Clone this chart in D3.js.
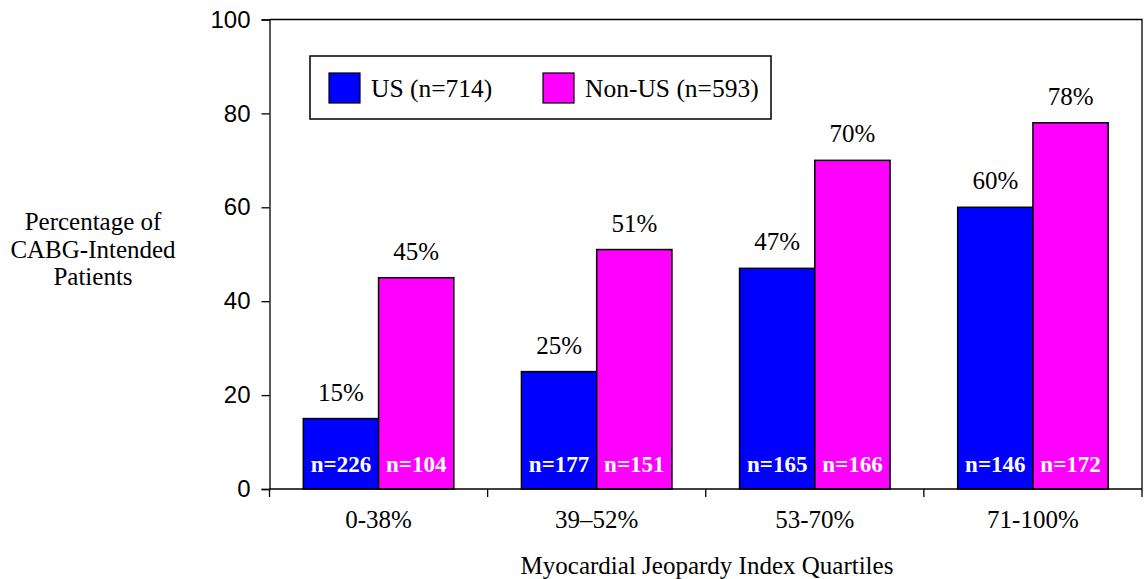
<!DOCTYPE html>
<html>
<head>
<meta charset="utf-8">
<script src="https://cdn.jsdelivr.net/npm/d3@7/dist/d3.min.js"></script>
<style>
  html, body { margin: 0; padding: 0; background: #fff; }
  svg { display: block; }
</style>
</head>
<body>
<svg id="chart" width="1144" height="579"></svg>
<script>
// Quartile categories and per-region percentages
const categories = ["0-38%", "39\u201352%", "53-70%", "71-100%"];
const seriesNames = ["US (n=714)", "Non-US (n=593)"];
const usValues = [15, 25, 47, 60];
const nonUsValues = [45, 51, 70, 78];
const usCounts = [226, 177, 165, 146];
const nonUsCounts = [104, 151, 166, 172];
const yTicks = [0, 20, 40, 60, 80, 100];
const colors = ["#0000ff", "#ff00ff"];

const svg = d3.select("#chart");
const plotLeft = 269.5, plotRight = 1142, plotTop = 19.5, plotBottom = 489;
const serif = "'Liberation Serif', 'Times New Roman', serif";
const sans = "'Liberation Sans', Arial, sans-serif";

const x = d3.scaleBand().domain(categories).range([plotLeft, plotRight]).paddingInner(0.31).paddingOuter(0.155);
const xs = d3.scaleBand().domain([0, 1]).range([0, x.bandwidth()]);
const y = d3.scaleLinear().domain([0, 100]).range([plotBottom, plotTop]);

// Plot frame (top and right edges)
svg.append("path")
  .attr("d", `M${plotLeft},${plotTop}H${plotRight}V${plotBottom}`)
  .attr("fill", "none").attr("stroke", "#000").attr("stroke-width", 1.3);

// Bars
const rows = categories.map((c, i) => ({
  cat: c,
  vals: [
    { s: 0, v: usValues[i], n: usCounts[i] },
    { s: 1, v: nonUsValues[i], n: nonUsCounts[i] }
  ]
}));

const g = svg.selectAll("g.grp").data(rows).enter().append("g")
  .attr("class", "grp")
  .attr("transform", d => `translate(${x(d.cat)},0)`);

g.selectAll("rect").data(d => d.vals).enter().append("rect")
  .attr("x", d => xs(d.s))
  .attr("y", d => y(d.v))
  .attr("width", xs.bandwidth())
  .attr("height", d => y(0) - y(d.v))
  .attr("fill", d => colors[d.s])
  .attr("stroke", "#000").attr("stroke-width", 1.5);

// Percentage labels above bars
g.selectAll("text.pct").data(d => d.vals).enter().append("text")
  .attr("class", "pct")
  .attr("x", d => xs(d.s) + xs.bandwidth() / 2)
  .attr("y", d => y(d.v) - 18)
  .attr("text-anchor", "middle")
  .attr("font-family", serif).attr("font-size", 25)
  .text(d => d.v + "%");

// Sample sizes inside bars
g.selectAll("text.cnt").data(d => d.vals).enter().append("text")
  .attr("class", "cnt")
  .attr("x", d => xs(d.s) + xs.bandwidth() / 2)
  .attr("y", plotBottom - 17)
  .attr("text-anchor", "middle")
  .attr("font-family", serif).attr("font-size", 23).attr("font-weight", "bold")
  .attr("fill", "#fff")
  .text(d => "n=" + d.n);

// Y axis
const yAxis = d3.axisLeft(y).tickValues(yTicks).tickSize(8).tickPadding(11);
const ya = svg.append("g").attr("transform", `translate(${plotLeft},0)`).call(yAxis);
ya.select(".domain").attr("stroke-width", 1.3);
ya.selectAll(".tick line").attr("stroke-width", 1.3);
ya.selectAll("text").attr("font-family", sans).attr("font-size", 24).attr("fill", "#000");

// X axis with ticks at category boundaries
const xa = svg.append("g").attr("transform", `translate(0,${plotBottom})`);
xa.append("line").attr("x1", plotLeft).attr("x2", plotRight).attr("stroke", "#000").attr("stroke-width", 1.3);
const bounds = d3.range(categories.length + 1).map(i => plotLeft + i * (plotRight - plotLeft) / categories.length);
xa.selectAll("line.tk").data(bounds).enter().append("line")
  .attr("class", "tk")
  .attr("x1", d => d).attr("x2", d => d).attr("y1", 0).attr("y2", 8)
  .attr("stroke", "#000").attr("stroke-width", 1.3);
xa.selectAll("text").data(categories).enter().append("text")
  .attr("x", d => x(d) + x.bandwidth() / 2)
  .attr("y", 39)
  .attr("text-anchor", "middle")
  .attr("font-family", serif).attr("font-size", 25)
  .text(d => d);

// Axis titles
svg.append("text")
  .attr("x", 707).attr("y", 574)
  .attr("text-anchor", "middle")
  .attr("font-family", serif).attr("font-size", 25)
  .text("Myocardial Jeopardy Index Quartiles");

const yTitle = ["Percentage of", "CABG-Intended", "Patients"];
svg.append("g").selectAll("text").data(yTitle).enter().append("text")
  .attr("x", 93).attr("y", (d, i) => 230 + i * 27.5)
  .attr("text-anchor", "middle")
  .attr("font-family", serif).attr("font-size", 25)
  .text(d => d);

// Legend
const lg = svg.append("g");
lg.append("rect").attr("x", 310).attr("y", 56).attr("width", 461).attr("height", 63)
  .attr("fill", "#fff").attr("stroke", "#000").attr("stroke-width", 1.5);
const legendX = [329, 543];
seriesNames.forEach((s, i) => {
  lg.append("rect").attr("x", legendX[i]).attr("y", 73).attr("width", 31).attr("height", 30)
    .attr("fill", colors[i]).attr("stroke", "#000").attr("stroke-width", 1.2);
  lg.append("text").attr("x", legendX[i] + 42).attr("y", 97)
    .attr("font-family", serif).attr("font-size", 25.5)
    .text(s);
});
</script>
</body>
</html>
